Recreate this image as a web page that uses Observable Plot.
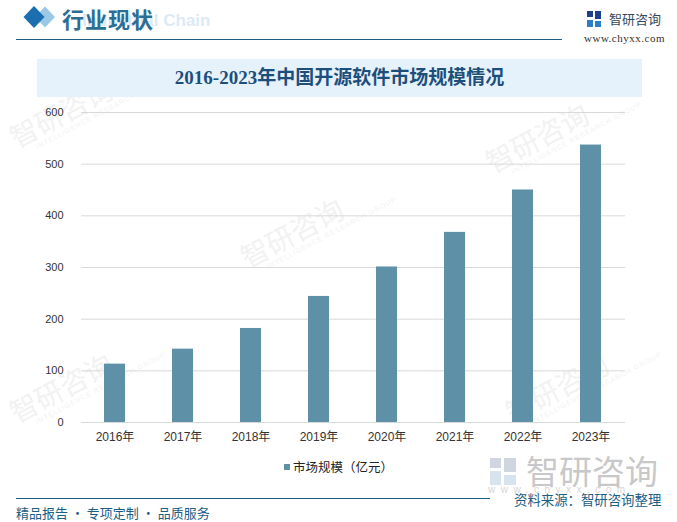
<!DOCTYPE html>
<html>
<head>
<meta charset="utf-8">
<script src="https://cdn.jsdelivr.net/npm/d3@7"></script>
<script src="https://cdn.jsdelivr.net/npm/@observablehq/plot@0.6"></script>
<style>
  html, body { margin: 0; padding: 0; background: #fff; }
  #wrap { position: relative; width: 677px; height: 522px; overflow: hidden; background: #fff; font-family: "Noto Sans CJK SC", sans-serif; }
  .abs { position: absolute; white-space: nowrap; }
  .wm { position: absolute; white-space: nowrap; color: #f2f2f2; font-size: 28px; line-height: 30px; transform: rotate(-28deg); transform-origin: left top; }
  .wm span { display: block; font-size: 7px; line-height: 9px; letter-spacing: 1px; margin-left: 18px; font-family: "Liberation Sans", sans-serif; }
  #chart { position: absolute; left: 0; top: 100px; }
</style>
</head>
<body>
<div id="wrap">
  <!-- faint watermarks -->
  <div class="wm" style="left:4px; top:125px;">智研咨询<span>INTELLIGENCE RESEARCH GROUP</span></div>
  <div class="wm" style="left:4px; top:400px;">智研咨询<span>INTELLIGENCE RESEARCH GROUP</span></div>
  <div class="wm" style="left:235px; top:245px;">智研咨询<span>INTELLIGENCE RESEARCH GROUP</span></div>
  <div class="wm" style="left:480px; top:150px;">智研咨询<span>INTELLIGENCE RESEARCH GROUP</span></div>
  <div class="wm" style="left:500px; top:400px;">智研咨询<span>INTELLIGENCE RESEARCH GROUP</span></div>

  <!-- header -->
  <div class="abs" style="left:82px; top:11px; font-family:'Liberation Sans',sans-serif; font-weight:bold; font-size:17px; line-height:20px; color:#dde9f4;">Industrial Chain</div>
  <svg class="abs" style="left:18px; top:4px;" width="44" height="26">
    <polygon points="27,2.5 37,13 27,23.5 17,13" fill="#9cc8e8"/>
    <polygon points="16,2 26.5,13 16,24 5.5,13" fill="#1b6fae"/>
  </svg>
  <div class="abs" style="left:62px; top:2px; font-size:22px; font-weight:bold; color:#2a6e95; letter-spacing:1px;">行业现状</div>
  <div class="abs" style="left:16px; top:38.5px; width:546px; height:1.5px; background:#1b5e86;"></div>

  <svg class="abs" style="left:587px; top:11px;" width="14" height="16">
    <rect x="0" y="0" width="6" height="6" fill="#1e3f8a"/>
    <rect x="8" y="0" width="6" height="8" fill="#1e3f8a"/>
    <rect x="0" y="9" width="6" height="7" fill="#2c7fc4"/>
    <rect x="8" y="10" width="6" height="6" fill="#2c7fc4"/>
  </svg>
  <div class="abs" style="left:609px; top:9px; font-size:13px; color:#34495e;">智研咨询</div>
  <div class="abs" style="left:584px; top:32px; font-family:'Liberation Serif',serif; font-size:11px; color:#333; letter-spacing:0.5px;">www.chyxx.com</div>

  <!-- title -->
  <div class="abs" style="left:37px; top:59px; width:605px; height:38px; background:#e6f2fb;"></div>
  <div class="abs" style="left:37px; top:59px; width:605px; height:38px; line-height:38px; text-align:center; font-family:'Liberation Serif','Noto Sans CJK SC',serif; font-weight:bold; font-size:19px; color:#1d4f7c;">2016-2023年中国开源软件市场规模情况</div>

  <div id="chart"></div>

  <!-- legend -->
  <div class="abs" style="left:284px; top:464px; width:6px; height:6px; background:#5e91a8;"></div>
  <div class="abs" style="left:293px; top:458px; font-size:12.5px; line-height:18px; color:#222;">市场规模（亿元）</div>

  <!-- bottom big watermark logo -->
  <svg class="abs" style="left:490px; top:458px;" width="27" height="27">
    <rect x="0" y="0" width="11" height="10" fill="#cfd6e2"/>
    <rect x="14" y="0" width="12" height="14" fill="#cfd6e2"/>
    <rect x="0" y="13" width="11" height="14" fill="#d7e3ef"/>
    <rect x="14" y="17" width="12" height="10" fill="#d7e3ef"/>
  </svg>
  <div class="abs" style="left:526px; top:453px; font-size:33px; line-height:34px; color:#c8c8c8;">智研咨询</div>
  <div class="abs" style="left:488px; top:484px; font-family:'Liberation Sans',sans-serif; font-size:10px; line-height:12px; color:#d6d6d6; letter-spacing:5.5px;">www.chyxx.com</div>

  <!-- footer -->
  <div class="abs" style="left:16px; top:497.5px; width:474px; height:1.5px; background:#1b5e86;"></div>
  <div class="abs" style="left:514px; top:490px; font-size:13.4px; line-height:18px; color:#1b5e86;">资料来源：智研咨询整理</div>
  <div class="abs" style="left:16px; top:504px; font-size:13px; line-height:18px; color:#1b5e86;">精品报告 · 专项定制 · 品质服务</div>
</div>
<script>
const years = ["2016年", "2017年", "2018年", "2019年", "2020年", "2021年", "2022年", "2023年"];
const marketSize = [113, 142, 182, 244, 301, 368, 450, 537];
const yTicks = [0, 100, 200, 300, 400, 500, 600];

const data = years.map((year, i) => ({year, value: marketSize[i]}));

const chart = Plot.plot({
  width: 677,
  height: 350,
  marginLeft: 81,
  marginRight: 52,
  marginTop: 12,
  marginBottom: 28,
  style: {background: "transparent", fontFamily: "'Liberation Sans', 'Noto Sans CJK SC', sans-serif", color: "#333"},
  x: {domain: years, paddingInner: 0.69, paddingOuter: 0.345, label: null},
  y: {domain: [0, 600], label: null},
  marks: [
    Plot.ruleY(yTicks, {stroke: "#d9d9d9", strokeWidth: 1}),
    Plot.barY(data, {x: "year", y: "value", fill: "#5e91a8"}),
    Plot.axisY({ticks: yTicks, tickSize: 0, tickPadding: 18, fontSize: 11, label: null}),
    Plot.axisX({tickSize: 0, tickPadding: 10, fontSize: 12, label: null})
  ]
});
document.getElementById("chart").appendChild(chart);
</script>
</body>
</html>
